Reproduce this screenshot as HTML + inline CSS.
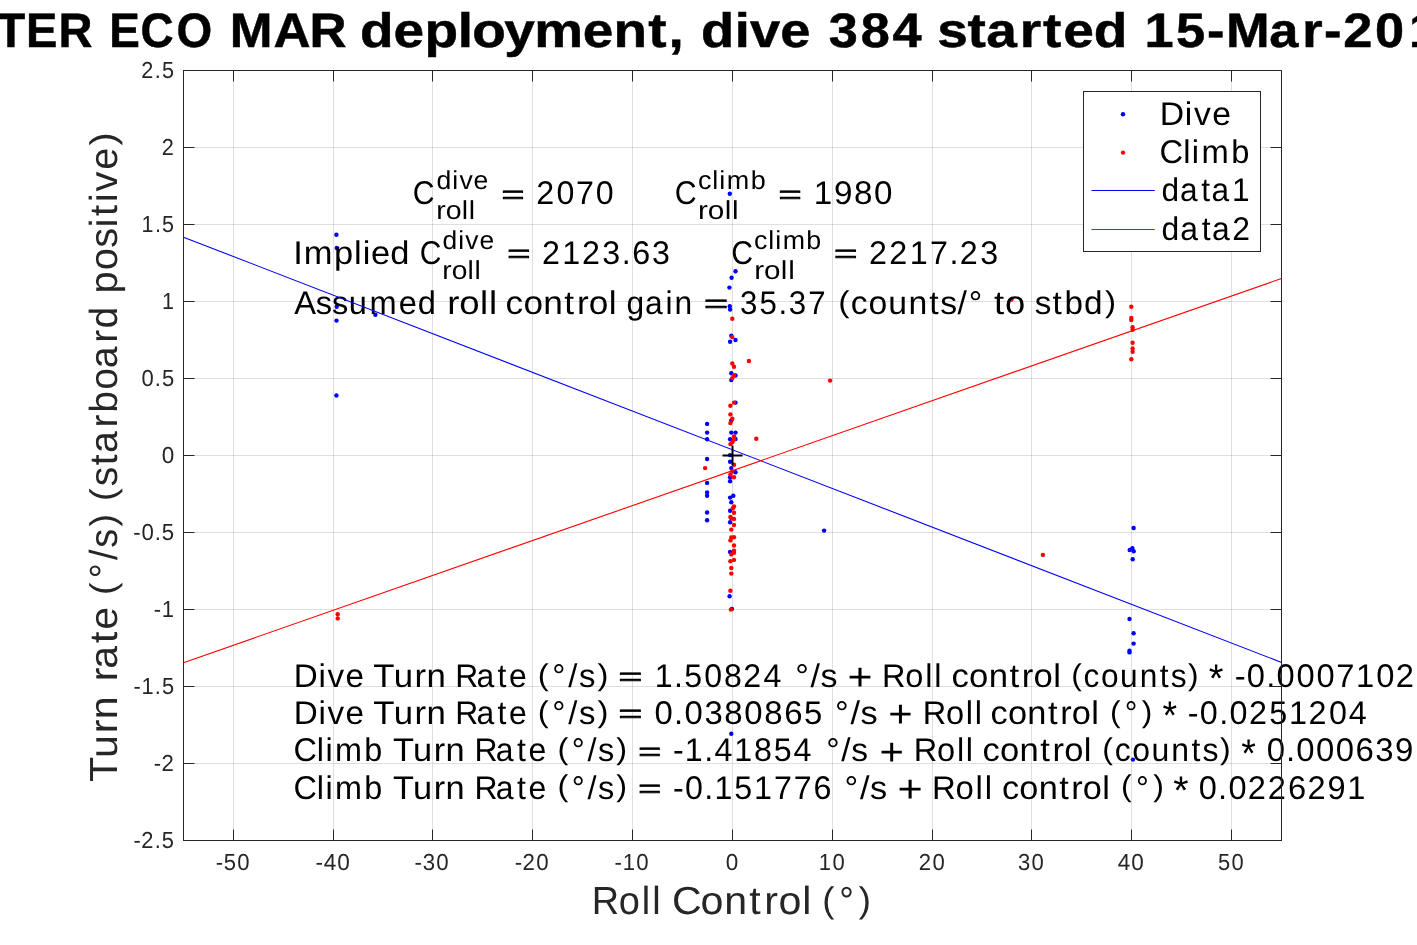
<!DOCTYPE html>
<html lang="en"><head><meta charset="utf-8"><title>Roll control vs turn rate</title>
<style>
html,body{margin:0;padding:0;background:#fff;}
body{width:1417px;height:945px;overflow:hidden;}
svg{display:block;font-family:"Liberation Sans",sans-serif;font-kerning:none;will-change:transform;text-rendering:geometricPrecision;}
.tk{font-size:23.2px;fill:#262626;}
.lb{font-size:39.2px;fill:#262626;}
.an{font-size:32.8px;fill:#000;}
.ss{font-size:26px;fill:#000;}
.ti{font-size:48.4px;font-weight:bold;fill:#000;stroke:#000;stroke-width:0.5px;}
.grid line{stroke:#262626;stroke-opacity:0.15;stroke-width:1;}
.ax line,.ax rect{stroke:#262626;stroke-width:1;fill:none;}
.dv circle{fill:#0000ff;}
.cl circle{fill:#ff0000;}
</style></head><body>
<svg width="1417" height="945" viewBox="0 0 1417 945">
<rect x="0" y="0" width="1417" height="945" fill="#ffffff"/>
<g class="grid">
<line x1="233.50" y1="70.5" x2="233.50" y2="840.5"/>
<line x1="333.50" y1="70.5" x2="333.50" y2="840.5"/>
<line x1="432.50" y1="70.5" x2="432.50" y2="840.5"/>
<line x1="532.50" y1="70.5" x2="532.50" y2="840.5"/>
<line x1="632.50" y1="70.5" x2="632.50" y2="840.5"/>
<line x1="732.50" y1="70.5" x2="732.50" y2="840.5"/>
<line x1="832.50" y1="70.5" x2="832.50" y2="840.5"/>
<line x1="932.50" y1="70.5" x2="932.50" y2="840.5"/>
<line x1="1031.50" y1="70.5" x2="1031.50" y2="840.5"/>
<line x1="1131.50" y1="70.5" x2="1131.50" y2="840.5"/>
<line x1="1231.50" y1="70.5" x2="1231.50" y2="840.5"/>
<line x1="183.5" y1="763.50" x2="1281.5" y2="763.50"/>
<line x1="183.5" y1="686.50" x2="1281.5" y2="686.50"/>
<line x1="183.5" y1="609.50" x2="1281.5" y2="609.50"/>
<line x1="183.5" y1="532.50" x2="1281.5" y2="532.50"/>
<line x1="183.5" y1="455.50" x2="1281.5" y2="455.50"/>
<line x1="183.5" y1="378.50" x2="1281.5" y2="378.50"/>
<line x1="183.5" y1="301.50" x2="1281.5" y2="301.50"/>
<line x1="183.5" y1="224.50" x2="1281.5" y2="224.50"/>
<line x1="183.5" y1="147.50" x2="1281.5" y2="147.50"/>
</g>
<g class="dv"><circle cx="729.8" cy="193.7" r="2.2"/><circle cx="735.5" cy="271.2" r="2.2"/><circle cx="731.6" cy="277.8" r="2.2"/><circle cx="729.4" cy="287.6" r="2.2"/><circle cx="729.8" cy="306.3" r="2.2"/><circle cx="730.1" cy="309.6" r="2.2"/><circle cx="731.3" cy="335.7" r="2.2"/><circle cx="735.5" cy="340.0" r="2.2"/><circle cx="730.1" cy="341.7" r="2.2"/><circle cx="731.3" cy="373.3" r="2.2"/><circle cx="735.5" cy="375.5" r="2.2"/><circle cx="731.3" cy="380.1" r="2.2"/><circle cx="735.5" cy="402.6" r="2.2"/><circle cx="731.3" cy="420.4" r="2.2"/><circle cx="707.1" cy="423.9" r="2.2"/><circle cx="707.1" cy="432.6" r="2.2"/><circle cx="707.1" cy="439.3" r="2.2"/><circle cx="731.3" cy="432.6" r="2.2"/><circle cx="735.5" cy="432.6" r="2.2"/><circle cx="730.1" cy="439.3" r="2.2"/><circle cx="735.5" cy="439.0" r="2.2"/><circle cx="707.1" cy="459.0" r="2.2"/><circle cx="730.1" cy="455.1" r="2.2"/><circle cx="730.1" cy="461.8" r="2.2"/><circle cx="731.3" cy="468.1" r="2.2"/><circle cx="735.5" cy="472.3" r="2.2"/><circle cx="730.1" cy="477.2" r="2.2"/><circle cx="730.1" cy="481.2" r="2.2"/><circle cx="707.1" cy="482.9" r="2.2"/><circle cx="707.1" cy="492.5" r="2.2"/><circle cx="707.1" cy="495.7" r="2.2"/><circle cx="733.3" cy="495.7" r="2.2"/><circle cx="730.1" cy="497.6" r="2.2"/><circle cx="731.3" cy="502.3" r="2.2"/><circle cx="707.1" cy="512.5" r="2.2"/><circle cx="730.1" cy="510.8" r="2.2"/><circle cx="707.1" cy="520.3" r="2.2"/><circle cx="730.1" cy="522.3" r="2.2"/><circle cx="730.1" cy="551.9" r="2.2"/><circle cx="729.6" cy="596.3" r="2.2"/><circle cx="731.9" cy="608.9" r="2.2"/><circle cx="731.3" cy="733.7" r="2.2"/><circle cx="336.4" cy="234.7" r="2.2"/><circle cx="336.7" cy="247.9" r="2.2"/><circle cx="336.7" cy="306.8" r="2.2"/><circle cx="336.5" cy="320.6" r="2.2"/><circle cx="375.4" cy="314.8" r="2.2"/><circle cx="336.4" cy="395.5" r="2.2"/><circle cx="824.1" cy="530.6" r="2.2"/><circle cx="1133.6" cy="528.0" r="2.2"/><circle cx="1132.4" cy="548.1" r="2.2"/><circle cx="1129.7" cy="550.0" r="2.2"/><circle cx="1133.7" cy="551.2" r="2.2"/><circle cx="1132.7" cy="559.2" r="2.2"/><circle cx="1129.5" cy="619.0" r="2.2"/><circle cx="1133.6" cy="633.2" r="2.2"/><circle cx="1133.6" cy="643.6" r="2.2"/><circle cx="1129.5" cy="650.7" r="2.2"/><circle cx="1129.5" cy="652.4" r="2.2"/><circle cx="1132.9" cy="759.6" r="2.2"/></g>
<g class="cl"><circle cx="732.3" cy="318.8" r="2.2"/><circle cx="732.3" cy="337.1" r="2.2"/><circle cx="748.9" cy="361.0" r="2.2"/><circle cx="732.3" cy="363.5" r="2.2"/><circle cx="734.0" cy="366.7" r="2.2"/><circle cx="734.0" cy="375.2" r="2.2"/><circle cx="732.3" cy="378.1" r="2.2"/><circle cx="734.0" cy="402.6" r="2.2"/><circle cx="730.4" cy="405.8" r="2.2"/><circle cx="730.4" cy="414.4" r="2.2"/><circle cx="732.3" cy="418.7" r="2.2"/><circle cx="730.4" cy="423.1" r="2.2"/><circle cx="734.0" cy="436.5" r="2.2"/><circle cx="734.0" cy="439.5" r="2.2"/><circle cx="732.3" cy="442.2" r="2.2"/><circle cx="730.4" cy="444.1" r="2.2"/><circle cx="756.3" cy="438.7" r="2.2"/><circle cx="705.1" cy="468.1" r="2.2"/><circle cx="734.0" cy="464.7" r="2.2"/><circle cx="732.3" cy="471.5" r="2.2"/><circle cx="730.4" cy="474.5" r="2.2"/><circle cx="734.0" cy="477.2" r="2.2"/><circle cx="734.0" cy="506.5" r="2.2"/><circle cx="732.8" cy="508.2" r="2.2"/><circle cx="734.0" cy="512.8" r="2.2"/><circle cx="730.4" cy="517.0" r="2.2"/><circle cx="734.0" cy="518.9" r="2.2"/><circle cx="731.3" cy="518.4" r="2.2"/><circle cx="734.0" cy="525.0" r="2.2"/><circle cx="731.3" cy="529.6" r="2.2"/><circle cx="734.0" cy="537.2" r="2.2"/><circle cx="731.3" cy="537.5" r="2.2"/><circle cx="730.4" cy="540.4" r="2.2"/><circle cx="734.0" cy="545.5" r="2.2"/><circle cx="734.0" cy="550.6" r="2.2"/><circle cx="734.0" cy="552.8" r="2.2"/><circle cx="731.3" cy="554.4" r="2.2"/><circle cx="734.0" cy="559.9" r="2.2"/><circle cx="730.4" cy="561.2" r="2.2"/><circle cx="731.3" cy="568.0" r="2.2"/><circle cx="731.3" cy="573.6" r="2.2"/><circle cx="730.4" cy="590.8" r="2.2"/><circle cx="730.9" cy="609.6" r="2.2"/><circle cx="337.7" cy="614.2" r="2.2"/><circle cx="337.7" cy="618.4" r="2.2"/><circle cx="830.1" cy="380.6" r="2.2"/><circle cx="1042.9" cy="554.9" r="2.2"/><circle cx="1011.5" cy="299.5" r="2.2"/><circle cx="1131.3" cy="306.8" r="2.2"/><circle cx="1131.3" cy="317.9" r="2.2"/><circle cx="1131.3" cy="320.1" r="2.2"/><circle cx="1132.6" cy="327.3" r="2.2"/><circle cx="1132.6" cy="329.8" r="2.2"/><circle cx="1132.6" cy="342.7" r="2.2"/><circle cx="1132.6" cy="348.4" r="2.2"/><circle cx="1132.6" cy="351.8" r="2.2"/><circle cx="1131.3" cy="359.3" r="2.2"/></g>
<g id="annotations">
<text class="an" transform="scale(0.9195 1)" x="449.0" y="204.1">C</text><text class="ss" transform="scale(1.0229 1)" x="426.7 442.2 449.1 463.0" y="188.8">dive</text><text class="ss" transform="scale(1.0960 1)" x="398.0 406.7 421.4 427.8" y="218.7">roll</text>
<text class="an" style="font-size:32.8px;stroke:#000;stroke-width:1px" transform="scale(1.1986 0.76)" x="418.5" y="266.5">=</text><text class="an" transform="scale(0.9827 1)" x="545.7 566.2 586.2 606.3" y="204.1">2070</text>
<text class="an" transform="scale(0.9243 1)" x="730.1" y="204.1">C</text><text class="ss" transform="scale(1.0378 1)" x="672.5 686.4 693.1 700.3 723.3" y="188.8">climb</text><text class="ss" transform="scale(1.1421 1)" x="611.2 619.8 634.5 641.0" y="218.7">roll</text>
<text class="an" style="font-size:32.8px;stroke:#000;stroke-width:1px" transform="scale(1.2111 0.76)" x="642.8" y="266.5">=</text><text class="an" transform="scale(1.0113 1)" x="804.7 824.6 844.5 864.3" y="204.1">1980</text>
<text class="an" transform="scale(1.0511 1)" x="279.0 289.0 317.7 336.7 345.0 352.9 371.4" y="264.0">Implied</text>
<text class="an" transform="scale(0.9147 1)" x="458.9" y="264.0">C</text><text class="ss" transform="scale(1.0167 1)" x="435.3 450.8 457.7 471.6" y="248.7">dive</text><text class="ss" transform="scale(1.0836 1)" x="408.2 416.8 431.5 438.0" y="278.6">roll</text>
<text class="an" style="font-size:32.8px;stroke:#000;stroke-width:1px" transform="scale(1.2111 0.76)" x="418.9" y="345.3">=</text><text class="an" transform="scale(0.9821 1)" x="551.9 572.4 592.5 613.3 633.0 643.7 664.0" y="264.0">2123.63</text>
<text class="an" transform="scale(0.9195 1)" x="795.2" y="264.0">C</text><text class="ss" transform="scale(1.0298 1)" x="732.2 746.1 752.8 760.0 783.0" y="248.7">climb</text><text class="ss" transform="scale(1.1391 1)" x="662.1 670.7 685.4 691.9" y="278.6">roll</text>
<text class="an" style="font-size:32.8px;stroke:#000;stroke-width:1px" transform="scale(1.2237 0.76)" x="681.5" y="345.3">=</text><text class="an" transform="scale(0.9835 1)" x="883.7 904.2 924.9 945.5 965.5 975.9 996.8" y="264.0">2217.23</text>
<text class="an" transform="scale(0.9942 1)" x="295.9 317.7 334.0 350.9 371.6 401.0 420.2" y="313.9">Assumed</text><text class="an" transform="scale(1.1152 1)" x="401.0 411.9 430.4 438.6" y="313.9">roll</text><text class="an" transform="scale(1.0729 1)" x="471.2 487.9 506.4 526.0 537.7 548.7 567.3" y="313.9">control</text><text class="an" transform="scale(0.9673 1)" x="647.6 666.8 687.9 697.2" y="313.9">gain</text><text class="an" style="font-size:32.8px;stroke:#000;stroke-width:1px" transform="scale(1.2613 0.76)" x="558.1" y="410.9">=</text><text class="an" transform="scale(0.9517 1)" x="777.6 798.0 818.0 828.9 849.4" y="313.9">35.37</text><text class="an" transform="scale(1.0294 0.9108)" x="814.3" y="342.4">(</text><text class="an" transform="scale(1.0294 1)" x="826.4 843.8 862.9 882.5 902.8 913.5 930.1 941.0" y="313.9">counts/°</text><text class="an" transform="scale(1.1110 1)" x="894.8 904.5" y="313.9">to</text><text class="an" transform="scale(1.0146 1)" x="1019.9 1037.4 1049.1 1068.4" y="313.9">stbd</text><text class="an" transform="scale(1.0146 0.9108)" x="1089.0" y="342.4">)</text>
<text class="an" transform="scale(1.0128 1)" x="290.1 314.5 323.4 341.2" y="686.8">Dive</text><text class="an" transform="scale(1.0605 1)" x="352.0 371.2 390.8 402.1" y="686.8">Turn</text><text class="an" transform="scale(0.9721 1)" x="468.2 490.1 511.9 523.6" y="686.8">Rate</text><text class="an" transform="scale(1.0032 0.9108)" x="536.1" y="751.8">(</text><text class="an" transform="scale(1.0032 1)" x="550.6 566.4 577.2" y="686.8">°/s</text><text class="an" transform="scale(1.0032 0.9108)" x="595.5" y="751.8">)</text><text class="an" style="font-size:32.8px;stroke:#000;stroke-width:1px" transform="scale(1.2425 0.76)" x="497.7" y="901.6">=</text><text class="an" transform="scale(0.9787 1)" x="668.9 688.7 699.2 719.5 739.7 759.4 780.0" y="686.8">1.50824</text><text class="an" transform="scale(1.0381 1)" x="766.0 780.8 790.5" y="686.8">°/s</text><text class="an" style="font-size:38.5px" transform="scale(1.1120 1)" x="762.1" y="690.0">+</text><text class="an" transform="scale(0.9936 1)" x="887.7 911.2 931.2 940.2" y="686.8">Roll</text><text class="an" transform="scale(1.0587 1)" x="898.7 915.3 933.9 953.5 965.1 976.1 994.8" y="686.8">control</text><text class="an" transform="scale(0.9663 0.9108)" x="1108.6" y="751.8">(</text><text class="an" transform="scale(0.9663 1)" x="1121.3 1139.3 1159.1 1179.5 1200.3 1211.5" y="686.8">counts</text><text class="an" transform="scale(0.9663 0.9108)" x="1229.4" y="751.8">)</text><text class="an" style="font-size:40px" transform="scale(0.9443 1)" x="1280.0" y="692.1">*</text><text class="an" transform="scale(0.9972 1)" x="1238.2 1250.2 1269.7 1280.2 1300.2 1320.1 1340.1 1359.9 1380.1 1399.7" y="686.8">-0.0007102</text>
<text class="an" transform="scale(1.0128 1)" x="290.1 314.5 323.4 341.2" y="724.0">Dive</text><text class="an" transform="scale(1.0605 1)" x="352.0 371.2 390.8 402.1" y="724.0">Turn</text><text class="an" transform="scale(0.9721 1)" x="468.2 490.1 511.9 523.6" y="724.0">Rate</text><text class="an" transform="scale(1.0032 0.9108)" x="536.1" y="792.6">(</text><text class="an" transform="scale(1.0032 1)" x="550.6 566.4 577.2" y="724.0">°/s</text><text class="an" transform="scale(1.0032 0.9108)" x="595.5" y="792.6">)</text><text class="an" style="font-size:32.8px;stroke:#000;stroke-width:1px" transform="scale(1.2425 0.76)" x="497.7" y="950.6">=</text><text class="an" transform="scale(1.0025 1)" x="652.9 672.4 682.8 702.7 722.5 742.4 762.3 782.2 801.9" y="724.0">0.0380865</text><text class="an" transform="scale(1.0461 1)" x="798.2 813.0 822.7" y="724.0">°/s</text><text class="an" style="font-size:38.5px" transform="scale(1.0853 1)" x="818.5" y="727.2">+</text><text class="an" transform="scale(0.9936 1)" x="928.6 952.0 972.0 981.1" y="724.0">Roll</text><text class="an" transform="scale(1.0476 1)" x="945.5 962.2 980.7 1000.4 1012.0 1023.0 1041.7" y="724.0">control</text><text class="an" transform="scale(0.9669 0.9108)" x="1148.0" y="792.6">(</text><text class="an" transform="scale(0.9669 1)" x="1163.3" y="724.0">°</text><text class="an" transform="scale(0.9669 0.9108)" x="1180.8" y="792.6">)</text><text class="an" style="font-size:40px" transform="scale(0.9373 1)" x="1240.4" y="729.3">*</text><text class="an" transform="scale(0.9859 1)" x="1204.8 1216.9 1236.6 1247.1 1266.9 1287.3 1307.4 1327.3 1347.9 1368.0" y="724.0">-0.0251204</text>
<text class="an" transform="scale(0.9877 1)" x="297.1 320.8 329.5 339.1 368.9" y="761.4">Climb</text><text class="an" transform="scale(1.0482 1)" x="374.9 394.1 413.8 425.0" y="761.4">Turn</text><text class="an" transform="scale(0.9750 1)" x="486.6 508.5 530.3 542.0" y="761.4">Rate</text><text class="an" transform="scale(0.9909 0.9108)" x="562.5" y="833.7">(</text><text class="an" transform="scale(0.9909 1)" x="576.9 592.8 603.5" y="761.4">°/s</text><text class="an" transform="scale(0.9909 0.9108)" x="621.9" y="833.7">)</text><text class="an" style="font-size:32.8px;stroke:#000;stroke-width:1px" transform="scale(1.1986 0.76)" x="532.6" y="999.8">=</text><text class="an" transform="scale(0.9818 1)" x="685.5 697.4 717.3 727.8 747.8 768.1 788.1 808.3" y="761.4">-1.41854</text><text class="an" transform="scale(1.0246 1)" x="806.3 821.1 830.8" y="761.4">°/s</text><text class="an" style="font-size:38.5px" transform="scale(1.0853 1)" x="810.3" y="764.6">+</text><text class="an" transform="scale(0.9936 1)" x="919.6 943.1 963.1 972.1" y="761.4">Roll</text><text class="an" transform="scale(1.0547 1)" x="931.5 948.2 966.7 986.4 998.0 1009.0 1027.6" y="761.4">control</text><text class="an" transform="scale(0.9743 0.9108)" x="1131.4" y="833.7">(</text><text class="an" transform="scale(0.9743 1)" x="1144.1 1162.1 1181.9 1202.2 1223.0 1234.2" y="761.4">counts</text><text class="an" transform="scale(0.9743 0.9108)" x="1252.1" y="833.7">)</text><text class="an" style="font-size:40px" transform="scale(0.9373 1)" x="1324.3" y="766.7">*</text><text class="an" transform="scale(1.0028 1)" x="1263.1 1282.4 1292.7 1312.4 1332.1 1351.8 1371.5 1391.1" y="761.4">0.000639</text>
<text class="an" transform="scale(0.9877 1)" x="297.1 320.8 329.5 339.1 368.9" y="798.6">Climb</text><text class="an" transform="scale(1.0482 1)" x="374.9 394.1 413.8 425.0" y="798.6">Turn</text><text class="an" transform="scale(0.9750 1)" x="486.6 508.5 530.3 542.0" y="798.6">Rate</text><text class="an" transform="scale(0.9909 0.9108)" x="562.5" y="874.5">(</text><text class="an" transform="scale(0.9909 1)" x="576.9 592.8 603.5" y="798.6">°/s</text><text class="an" transform="scale(0.9909 0.9108)" x="621.9" y="874.5">)</text><text class="an" style="font-size:32.8px;stroke:#000;stroke-width:1px" transform="scale(1.1986 0.76)" x="532.6" y="1048.7">=</text><text class="an" transform="scale(0.9826 1)" x="685.0 697.1 716.7 727.1 747.3 767.4 787.7 807.8 828.0" y="798.6">-0.151776</text><text class="an" transform="scale(1.0461 1)" x="807.2 822.0 831.7" y="798.6">°/s</text><text class="an" style="font-size:38.5px" transform="scale(1.1227 1)" x="799.5" y="801.8">+</text><text class="an" transform="scale(1.0046 1)" x="927.7 951.2 971.1 980.2" y="798.6">Roll</text><text class="an" transform="scale(1.0456 1)" x="958.2 974.8 993.4 1013.0 1024.6 1035.6 1054.3" y="798.6">control</text><text class="an" transform="scale(0.9772 0.9108)" x="1147.2" y="874.5">(</text><text class="an" transform="scale(0.9772 1)" x="1162.6" y="798.6">°</text><text class="an" transform="scale(0.9772 0.9108)" x="1180.1" y="874.5">)</text><text class="an" style="font-size:40px" transform="scale(0.9862 1)" x="1189.7" y="803.9">*</text><text class="an" transform="scale(0.9935 1)" x="1206.5 1226.0 1236.5 1256.0 1276.0 1296.4 1316.0 1336.3 1356.2" y="798.6">0.0226291</text>
</g>
<line x1="183.5" y1="237.2" x2="1281.5" y2="662.4" stroke="#0000ff" stroke-width="1.1"/>
<line x1="183.5" y1="662.7" x2="1281.5" y2="278.5" stroke="#ff0000" stroke-width="1.1"/>
<path d="M722.5 455.5H742.5M732.5 445.5V465.5" stroke="#000" stroke-width="2" fill="none"/>
<g class="ax">
<rect x="183.5" y="70.5" width="1098.0" height="770.0"/>
<line x1="233.50" y1="840.5" x2="233.50" y2="829.5"/>
<line x1="233.50" y1="70.5" x2="233.50" y2="81.5"/>
<line x1="333.50" y1="840.5" x2="333.50" y2="829.5"/>
<line x1="333.50" y1="70.5" x2="333.50" y2="81.5"/>
<line x1="432.50" y1="840.5" x2="432.50" y2="829.5"/>
<line x1="432.50" y1="70.5" x2="432.50" y2="81.5"/>
<line x1="532.50" y1="840.5" x2="532.50" y2="829.5"/>
<line x1="532.50" y1="70.5" x2="532.50" y2="81.5"/>
<line x1="632.50" y1="840.5" x2="632.50" y2="829.5"/>
<line x1="632.50" y1="70.5" x2="632.50" y2="81.5"/>
<line x1="732.50" y1="840.5" x2="732.50" y2="829.5"/>
<line x1="732.50" y1="70.5" x2="732.50" y2="81.5"/>
<line x1="832.50" y1="840.5" x2="832.50" y2="829.5"/>
<line x1="832.50" y1="70.5" x2="832.50" y2="81.5"/>
<line x1="932.50" y1="840.5" x2="932.50" y2="829.5"/>
<line x1="932.50" y1="70.5" x2="932.50" y2="81.5"/>
<line x1="1031.50" y1="840.5" x2="1031.50" y2="829.5"/>
<line x1="1031.50" y1="70.5" x2="1031.50" y2="81.5"/>
<line x1="1131.50" y1="840.5" x2="1131.50" y2="829.5"/>
<line x1="1131.50" y1="70.5" x2="1131.50" y2="81.5"/>
<line x1="1231.50" y1="840.5" x2="1231.50" y2="829.5"/>
<line x1="1231.50" y1="70.5" x2="1231.50" y2="81.5"/>
<line x1="183.5" y1="763.50" x2="194.5" y2="763.50"/>
<line x1="1281.5" y1="763.50" x2="1270.5" y2="763.50"/>
<line x1="183.5" y1="686.50" x2="194.5" y2="686.50"/>
<line x1="1281.5" y1="686.50" x2="1270.5" y2="686.50"/>
<line x1="183.5" y1="609.50" x2="194.5" y2="609.50"/>
<line x1="1281.5" y1="609.50" x2="1270.5" y2="609.50"/>
<line x1="183.5" y1="532.50" x2="194.5" y2="532.50"/>
<line x1="1281.5" y1="532.50" x2="1270.5" y2="532.50"/>
<line x1="183.5" y1="455.50" x2="194.5" y2="455.50"/>
<line x1="1281.5" y1="455.50" x2="1270.5" y2="455.50"/>
<line x1="183.5" y1="378.50" x2="194.5" y2="378.50"/>
<line x1="1281.5" y1="378.50" x2="1270.5" y2="378.50"/>
<line x1="183.5" y1="301.50" x2="194.5" y2="301.50"/>
<line x1="1281.5" y1="301.50" x2="1270.5" y2="301.50"/>
<line x1="183.5" y1="224.50" x2="194.5" y2="224.50"/>
<line x1="1281.5" y1="224.50" x2="1270.5" y2="224.50"/>
<line x1="183.5" y1="147.50" x2="194.5" y2="147.50"/>
<line x1="1281.5" y1="147.50" x2="1270.5" y2="147.50"/>
</g>
<g id="ticklabels">
<text class="tk" transform="scale(0.9437 1)" x="141.4 149.7 164.1 171.5" y="848.0">-2.5</text>
<text class="tk" transform="scale(0.9540 1)" x="161.1 169.4" y="771.0">-2</text>
<text class="tk" transform="scale(0.9409 1)" x="141.8 150.4 164.6 172.1" y="694.0">-1.5</text>
<text class="tk" transform="scale(0.9493 1)" x="161.9 170.4" y="617.0">-1</text>
<text class="tk" transform="scale(0.9565 1)" x="139.4 147.9 161.8 169.2" y="540.0">-0.5</text>
<text class="tk" transform="scale(0.9692 1)" x="166.9" y="463.0">0</text>
<text class="tk" transform="scale(0.9484 1)" x="149.2 163.2 170.7" y="386.0">0.5</text>
<text class="tk" transform="scale(0.9256 1)" x="174.9" y="309.0">1</text>
<text class="tk" transform="scale(0.9286 1)" x="152.5 166.8 174.4" y="232.0">1.5</text>
<text class="tk" transform="scale(0.9342 1)" x="173.1" y="155.0">2</text>
<text class="tk" transform="scale(0.9324 1)" x="151.6 166.1 173.7" y="78.0">2.5</text>
<text class="tk" transform="scale(0.9520 1)" x="226.5 235.0 249.3" y="870.2">-50</text>
<text class="tk" transform="scale(0.9736 1)" x="324.1 332.5 346.4" y="870.2">-40</text>
<text class="tk" transform="scale(0.9584 1)" x="432.6 441.1 455.3" y="870.2">-30</text>
<text class="tk" transform="scale(0.9602 1)" x="536.0 544.1 558.6" y="870.2">-20</text>
<text class="tk" transform="scale(0.9575 1)" x="641.9 650.3 664.6" y="870.2">-10</text>
<text class="tk" transform="scale(0.9692 1)" x="748.7" y="870.2">0</text>
<text class="tk" transform="scale(0.9485 1)" x="863.3 877.7" y="870.2">10</text>
<text class="tk" transform="scale(0.9521 1)" x="964.9 979.5" y="870.2">20</text>
<text class="tk" transform="scale(0.9500 1)" x="1071.5 1085.8" y="870.2">30</text>
<text class="tk" transform="scale(0.9692 1)" x="1153.3 1167.3" y="870.2">40</text>
<text class="tk" transform="scale(0.9420 1)" x="1292.9 1307.4" y="870.2">50</text>
</g>
<text class="lb" transform="scale(0.9666 1)" x="612.1 640.1 664.0 674.8" y="914.0">Roll</text><text class="lb" transform="scale(1.0485 1)" x="640.8 668.1 690.8 714.7 728.9 742.5 765.2" y="914.0">Control</text><text class="lb" transform="scale(0.9317 0.9104)" x="882.5" y="1001.3">(</text><text class="lb" transform="scale(0.9317 1)" x="900.9" y="914.0">°</text><text class="lb" transform="scale(0.9317 0.9104)" x="921.8" y="1001.3">)</text>
<text class="lb" transform="translate(117.0 780.8) rotate(-90) scale(1.0482 1)" x="-1.1 21.8 45.3 58.8" y="0.0">Turn</text><text class="lb" transform="translate(117.0 780.8) rotate(-90) scale(1.0425 1)" x="95.6 107.5 132.2 145.0" y="0.0">rate</text><text class="lb" transform="translate(117.0 780.8) rotate(-90) scale(0.9643 0.9104)" x="192.7" y="-2.7">(</text><text class="lb" transform="translate(117.0 780.8) rotate(-90) scale(0.9643 1)" x="210.0 228.9 241.7" y="0.0">°/s</text><text class="lb" transform="translate(117.0 780.8) rotate(-90) scale(0.9643 0.9104)" x="263.7" y="-2.7">)</text><text class="lb" transform="translate(117.0 780.8) rotate(-90) scale(0.9958 0.9104)" x="280.8" y="-2.7">(</text><text class="lb" transform="translate(117.0 780.8) rotate(-90) scale(0.9958 1)" x="295.9 317.0 329.1 354.8 369.5 392.7 414.3 440.0 454.3" y="0.0">starboard</text><text class="lb" transform="translate(117.0 780.8) rotate(-90) scale(1.0134 1)" x="480.9 503.8 526.1 546.1 557.3 570.9 581.6 602.9" y="0.0">positive</text><text class="lb" transform="translate(117.0 780.8) rotate(-90) scale(1.0134 0.9104)" x="626.8" y="-2.7">)</text>
<text class="ti" transform="scale(0.9723 1)" x="-3.6 26.7 60.1" y="46.8">TER</text><text class="ti" transform="scale(0.9479 1)" x="115.2 148.1 186.2" y="46.8">ECO</text><text class="ti" transform="scale(1.0601 1)" x="216.8 257.9 291.9" y="46.8">MAR</text><text class="ti" transform="scale(1.1361 1)" x="316.9 346.3 373.6 402.9 415.7 443.9 470.3 512.9 540.0 570.5 588.4" y="46.8">deployment,</text><text class="ti" transform="scale(1.1215 1)" x="625.1 655.1 668.8 695.8" y="46.8">dive</text><text class="ti" transform="scale(1.0797 1)" x="767.5 797.2 826.7" y="46.8">384</text><text class="ti" transform="scale(1.1373 1)" x="824.1 850.7 867.2 896.7 917.0 934.9 961.7" y="46.8">started</text><text class="ti" transform="scale(1.0816 1)" x="1058.1 1087.3 1115.9 1133.4 1173.5 1204.1 1224.1 1242.0 1271.2" y="46.8">15-Mar-20</text><text class="ti" transform="scale(0.9724 1)" x="1449.2" y="46.8">1</text>
<g id="legend">
<rect x="1083.5" y="91.5" width="177" height="160" fill="#fff" stroke="#262626" stroke-width="1"/>
<circle cx="1123.0" cy="114.3" r="2.2" fill="#0000ff"/>
<circle cx="1123.0" cy="152.6" r="2.2" fill="#ff0000"/>
<line x1="1091.5" y1="190.5" x2="1154.8" y2="190.5" stroke="#0000ff" stroke-width="1"/>
<line x1="1091.5" y1="229.5" x2="1154.8" y2="229.5" stroke="#ff0000" stroke-width="1"/>
<text class="an" transform="scale(1.0281 1)" x="1128.0 1152.4 1161.3 1179.1" y="124.8">Dive</text>
<text class="an" transform="scale(0.9970 1)" x="1163.1 1186.7 1195.4 1205.0 1234.9" y="162.9">Climb</text>
<text class="an" transform="scale(0.9650 1)" x="1203.7 1222.9 1244.9 1255.5 1276.8" y="200.8">data1</text>
<text class="an" transform="scale(0.9719 1)" x="1195.2 1214.4 1236.4 1247.0 1267.9" y="239.7">data2</text>
</g>
</svg></body></html>
